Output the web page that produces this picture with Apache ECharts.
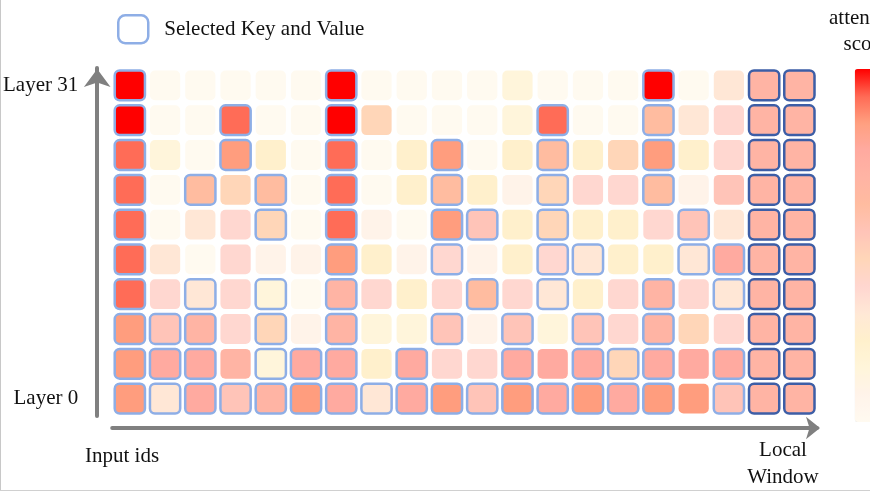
<!DOCTYPE html>
<html>
<head>
<meta charset="utf-8">
<script src="https://cdn.jsdelivr.net/npm/echarts@6/dist/echarts.min.js"></script>
<style>
html,body{margin:0;padding:0;background:#fff;}
#chart{width:870px;height:492px;}
</style>
</head>
<body>
<div id="chart"></div>
<script>
// Column categories: 18 input ids followed by 2 local-window tokens
const inputIds = ['id0','id1','id2','id3','id4','id5','id6','id7','id8','id9','id10','id11','id12','id13','id14','id15','id16','id17','win0','win1'];
// Row tick labels, bottom (Layer 0) to top (Layer 31)
const layerLabels = ['Layer 0','','','','','','','','','Layer 31'];

// Attention scores, listed from the top row (Layer 31) down to Layer 0
const scores = [
  [1.00,0.00,0.00,0.00,0.00,0.00,1.00,0.00,0.00,0.00,0.00,0.15,0.00,0.00,0.00,1.00,0.00,0.31,0.69,0.69],
  [1.00,0.00,0.00,0.92,0.00,0.00,1.00,0.46,0.00,0.00,0.00,0.15,0.92,0.00,0.00,0.62,0.31,0.38,0.69,0.69],
  [0.92,0.15,0.00,0.85,0.23,0.00,0.92,0.00,0.23,0.85,0.00,0.23,0.62,0.23,0.46,0.85,0.23,0.38,0.69,0.69],
  [0.92,0.00,0.62,0.46,0.62,0.00,0.92,0.00,0.23,0.62,0.23,0.08,0.46,0.38,0.38,0.62,0.08,0.54,0.69,0.69],
  [0.92,0.00,0.31,0.38,0.46,0.00,0.92,0.08,0.00,0.85,0.54,0.23,0.46,0.23,0.23,0.38,0.54,0.31,0.69,0.69],
  [0.92,0.31,0.00,0.38,0.08,0.08,0.85,0.23,0.08,0.38,0.08,0.23,0.38,0.31,0.23,0.23,0.31,0.77,0.69,0.69],
  [0.92,0.38,0.31,0.38,0.15,0.00,0.69,0.38,0.23,0.38,0.62,0.38,0.31,0.23,0.38,0.69,0.38,0.31,0.69,0.69],
  [0.85,0.54,0.69,0.38,0.46,0.08,0.69,0.15,0.15,0.54,0.08,0.54,0.15,0.54,0.38,0.69,0.46,0.38,0.69,0.69],
  [0.85,0.77,0.77,0.69,0.15,0.77,0.77,0.23,0.77,0.38,0.38,0.77,0.77,0.77,0.46,0.77,0.77,0.77,0.69,0.69],
  [0.85,0.31,0.77,0.54,0.69,0.85,0.77,0.31,0.77,0.85,0.54,0.85,0.77,0.85,0.77,0.85,0.85,0.54,0.69,0.69]
];
// Selection: 0 = not selected, 1 = selected key/value, 2 = local window (same row order)
const selection = [
  [1,0,0,0,0,0,1,0,0,0,0,0,0,0,0,1,0,0,2,2],
  [1,0,0,1,0,0,1,0,0,0,0,0,1,0,0,1,0,0,2,2],
  [1,0,0,1,0,0,1,0,0,1,0,0,1,0,0,1,0,0,2,2],
  [1,0,1,0,1,0,1,0,0,1,0,0,1,0,0,1,0,0,2,2],
  [1,0,0,0,1,0,1,0,0,1,1,0,1,0,0,0,1,0,2,2],
  [1,0,0,0,0,0,1,0,0,1,0,0,1,1,0,0,1,1,2,2],
  [1,0,1,0,1,0,1,0,0,0,1,0,1,0,0,1,0,1,2,2],
  [1,1,1,0,1,0,1,0,0,1,0,1,0,1,0,1,0,0,2,2],
  [1,1,1,0,1,1,1,0,1,0,0,1,0,1,1,1,0,1,2,2],
  [1,1,1,1,1,1,1,1,1,1,1,1,1,1,1,1,0,1,2,2]
];

const cells = [];
const nRows = scores.length;
scores.forEach((row, r) => {
  row.forEach((v, c) => {
    cells.push([c, nRows - 1 - r, v, selection[r][c]]);
  });
});

const serif = '"Liberation Serif", "Times New Roman", serif';
const chart = echarts.init(document.getElementById('chart'), null, {renderer: 'canvas'});

chart.setOption({
  animation: false,
  backgroundColor: '#ffffff',
  grid: {left: 112, top: 68, width: 705, height: 348, containLabel: false},
  legend: {
    left: 112, top: 9,
    itemWidth: 30, itemHeight: 28,
    selectedMode: false,
    textStyle: {fontFamily: serif, fontSize: 21, color: '#111', padding: [0, 0, 0, 11]},
    data: [{name: 'Selected Key and Value', icon: 'roundRect',
            itemStyle: {color: '#ffffff', borderColor: '#8eaee6', borderWidth: 2.5}}]
  },
  xAxis: {
    type: 'category', data: inputIds, offset: 12,
    axisLine: {show: true, symbol: ['none', 'arrow'], symbolSize: [17, 14], symbolOffset: [0, 3],
               lineStyle: {color: '#808080', width: 4}},
    axisTick: {show: false}, axisLabel: {show: false}, splitLine: {show: false}
  },
  yAxis: {
    type: 'category', data: layerLabels, offset: 15,
    axisLine: {show: true, symbol: ['none', 'arrow'], symbolSize: [20, 18], symbolOffset: [0, -1],
               lineStyle: {color: '#808080', width: 4}},
    axisTick: {show: false},
    axisLabel: {interval: 0, margin: 19, fontFamily: serif, fontSize: 21, color: '#111'},
    splitLine: {show: false}
  },
  visualMap: {
    type: 'continuous', seriesIndex: 0, dimension: 2,
    min: 0, max: 1, calculable: false,
    orient: 'vertical', left: 829, top: 5, padding: 0,
    itemWidth: 22, itemHeight: 353, textGap: 12,
    text: ['attention\nscore', ''],
    textStyle: {fontFamily: serif, fontSize: 21, color: '#111', lineHeight: 26},
    inRange: {color: ['#fffaf0','#fff3ea','#fff5da','#fff0cc','#ffe8d6','#ffd6d0','#ffd6b8',
                      '#ffc4b8','#ffbca0','#ffb4a4','#ffaaa0','#ffa080','#ff6a55','#ff0000']}
  },
  graphic: [
    {type: 'text', left: 85, top: 446, style: {text: 'Input ids', font: '21px ' + serif, fill: '#111'}},
    {type: 'text', x: 783, y: 437, style: {text: 'Local\nWindow', font: '21px ' + serif, fill: '#111',
      align: 'center', lineHeight: 27}},
    {type: 'line', shape: {x1: 0.5, y1: 0, x2: 0.5, y2: 490}, style: {stroke: '#c8c8c8', lineWidth: 1}},
    {type: 'line', shape: {x1: 0, y1: 490.5, x2: 870, y2: 490.5}, style: {stroke: '#d0d0d0', lineWidth: 1}}
  ],
  series: [{
    name: 'Selected Key and Value',
    type: 'custom',
    data: cells,
    encode: {x: 0, y: 1},
    renderItem: function (params, api) {
      const c = api.coord([api.value(0), api.value(1)]);
      const s = api.size([1, 1]);
      const w = s[0] - 5, h = s[1] - 5;
      const flag = api.value(3);
      const stroke = flag === 2 ? '#3d5ea6' : (flag === 1 ? '#8eaee6' : null);
      return {
        type: 'rect',
        shape: {x: c[0] - w / 2, y: c[1] - h / 2, width: w, height: h, r: 5},
        style: {fill: api.visual('color'), stroke: stroke, lineWidth: flag ? 2.5 : 0}
      };
    }
  }]
});
</script>
</body>
</html>
